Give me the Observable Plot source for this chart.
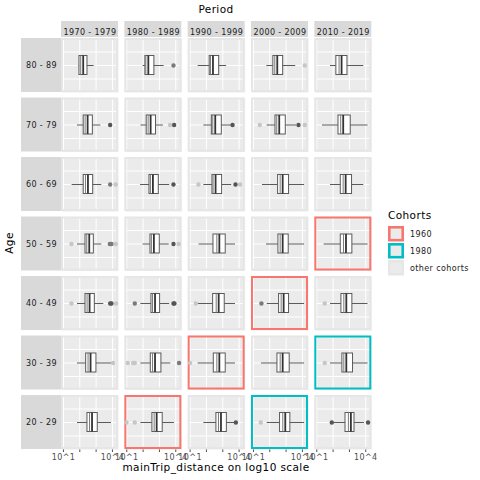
<!DOCTYPE html>
<html><head><meta charset="utf-8">
<script src="https://cdn.jsdelivr.net/npm/d3@7"></script>
<script src="https://cdn.jsdelivr.net/npm/@observablehq/plot@0.6"></script>
<style>
body{margin:0;background:#fff;}
#wrap{position:relative;width:480px;height:480px;}
#wrap svg{position:absolute;left:0;top:0;}
#wrap svg text{letter-spacing:0.4px;}
#overlay text{letter-spacing:0;}
</style></head><body><div id="wrap"></div>
<script>
// Facet categories
const ages = ["80 - 89", "70 - 79", "60 - 69", "50 - 59", "40 - 49", "30 - 39", "20 - 29"];
const periods = ["1970 - 1979", "1980 - 1989", "1990 - 1999", "2000 - 2009", "2010 - 2019"];
const cohortGroups = ["1960", "1980", "other cohorts"];
const cohortColors = ["#F8766D", "#00BFC4", "#E6E6E6"];

// Boxplot statistics, log10(mainTrip_distance); rows = ages, columns = periods
const whiskerLow = [
  [1.95, 2.00, 1.49, 1.82, 1.84],
  [1.86, 1.87, 1.84, 1.84, 1.35],
  [1.53, 1.84, 1.84, 1.55, 1.84],
  [1.86, 2.00, 1.55, 1.80, 1.45],
  [1.86, 1.86, 1.49, 1.84, 1.84],
  [1.86, 1.86, 1.49, 1.49, 1.84],
  [1.86, 1.86, 1.84, 1.84, 1.96]
];
const q1 = [
  [1.98, 2.14, 2.20, 2.22, 2.20],
  [2.24, 2.22, 2.33, 2.35, 2.33],
  [2.24, 2.39, 2.37, 2.51, 2.47],
  [2.35, 2.45, 2.43, 2.53, 2.47],
  [2.35, 2.51, 2.41, 2.57, 2.51],
  [2.39, 2.47, 2.45, 2.47, 2.57],
  [2.47, 2.57, 2.61, 2.63, 2.76]
];
const median = [
  [2.24, 2.35, 2.43, 2.49, 2.55],
  [2.51, 2.49, 2.57, 2.61, 2.65],
  [2.53, 2.63, 2.59, 2.82, 2.80],
  [2.61, 2.69, 2.82, 2.82, 2.82],
  [2.63, 2.76, 2.78, 2.88, 2.84],
  [2.69, 2.76, 2.82, 2.82, 2.84],
  [2.78, 2.86, 2.92, 2.98, 3.12]
];
const q3 = [
  [2.47, 2.69, 2.78, 2.82, 2.88],
  [2.80, 2.79, 2.94, 2.98, 3.08],
  [2.82, 2.96, 2.96, 3.18, 3.16],
  [2.86, 3.02, 3.18, 3.16, 3.18],
  [2.92, 3.04, 3.12, 3.18, 3.18],
  [3.02, 3.12, 3.18, 3.22, 3.22],
  [3.10, 3.20, 3.25, 3.26, 3.31]
];
const whiskerHigh = [
  [2.88, 3.29, 3.24, 3.59, 3.88],
  [3.29, 3.24, 3.53, 3.65, 4.14],
  [3.35, 3.63, 3.55, 4.14, 3.88],
  [3.35, 3.60, 3.78, 4.14, 4.14],
  [3.47, 3.63, 3.78, 4.14, 4.14],
  [3.96, 3.70, 3.78, 4.14, 4.14],
  [3.94, 3.92, 3.73, 4.14, 3.92]
];
// Outliers: [age index, period index, log10 distance, shade]
const outliers = [
  [0,1,3.86,"mid"],[0,3,4.14,"light"],
  [1,0,3.86,"dark"],[1,1,3.65,"light"],[1,1,3.90,"dark"],[1,2,3.60,"dark"],[1,3,1.39,"light"],[1,3,3.76,"dark"],[1,3,4.14,"light"],
  [2,0,3.86,"mid"],[2,0,4.20,"light"],[2,1,3.86,"dark"],[2,2,1.51,"light"],[2,2,3.78,"dark"],[2,2,4.06,"light"],
  [3,0,1.49,"light"],[3,0,3.84,"mid"],[3,0,3.94,"mid"],[3,0,4.20,"light"],[3,1,3.86,"dark"],[3,1,4.18,"light"],
  [4,0,1.49,"light"],[4,0,3.86,"dark"],[4,0,3.94,"dark"],[4,0,4.22,"light"],[4,1,1.49,"mid"],[4,1,3.86,"dark"],[4,1,3.92,"dark"],[4,2,1.35,"light"],[4,3,1.49,"mid"],[4,4,1.49,"light"],
  [5,0,4.04,"light"],[5,1,1.06,"light"],[5,1,1.39,"light"],[5,1,1.49,"light"],[5,1,4.20,"mid"],[5,2,1.00,"light"],[5,4,1.49,"light"],
  [6,1,0.98,"light"],[6,1,1.49,"light"],[6,2,3.80,"dark"],[6,3,1.45,"light"],[6,4,1.92,"dark"],[6,4,4.14,"dark"]
];
const shadeNames = ["dark", "mid", "light"];
const shadeColors = ["#555555", "#7A7A7A", "#C6C6C6"];
const xTicks = [10, 100, 1000, 10000];
const xTickLabels = ["10^1", "", "", "10^4"];
const xDomain = [10 ** 0.88, 10 ** 4.37];
const yGrid = [0.25, 0.5, 0.75];

const panels = ages.flatMap((age, i) => periods.map((period, j) => {
  const cohort = String(+period.slice(0, 4) - +age.slice(0, 2));
  return {
    age, period,
    cohort: cohortGroups.includes(cohort) ? cohort : "other cohorts",
    wl: 10 ** whiskerLow[i][j], q1: 10 ** q1[i][j], med: 10 ** median[i][j],
    q3: 10 ** q3[i][j], wh: 10 ** whiskerHigh[i][j]
  };
}));
const outs = outliers.map(([i, j, v, s]) => ({age: ages[i], period: periods[j], x: 10 ** v, shade: s}));

const full = {x1: () => xDomain[0], x2: () => xDomain[1], y1: () => 0, y2: () => 1};
const boxInset = {insetTop: 17.5, insetBottom: 17.5};

const chart = Plot.plot({
  width: 480, height: 480,
  marginLeft: 61, marginRight: 108.7, marginTop: 38, marginBottom: 31,
  style: {fontFamily: "DejaVu Sans, sans-serif", fontSize: "8px", color: "#4D4D4D", background: "transparent", overflow: "visible"},
  fx: {domain: periods, paddingInner: 0.1, paddingOuter: 0, round: false, axis: null},
  fy: {domain: ages, paddingInner: 0.0924, paddingOuter: 0, round: false, axis: null},
  x: {type: "log", domain: xDomain, ticks: xTicks, tickFormat: d => xTickLabels[xTicks.indexOf(d)] ?? "", tickSize: 3, tickPadding: 2, label: null},
  y: {domain: [0, 1], axis: null},
  color: {domain: cohortGroups, range: cohortColors},
  marks: [
    Plot.frame({fill: "#EBEBEB"}),
    Plot.ruleX(xTicks, {stroke: "white", strokeWidth: 1}),
    Plot.ruleY(yGrid, {stroke: "white", strokeWidth: 1}),
    Plot.rect(panels, {fx: "period", fy: "age", ...full, inset: 1, fill: "none", stroke: "cohort", strokeWidth: 2}),
    // strips
    Plot.rect(periods, {fx: d => d, fy: () => ages[0], ...full, insetBottom: 38, dy: -17, fill: "#D9D9D9"}),
    Plot.text(periods, {fx: d => d, fy: () => ages[0], text: d => d, frameAnchor: "top", dy: -9, fontSize: 8, fill: "#1A1A1A"}),
    Plot.rect(ages, {fx: () => periods[0], fy: d => d, ...full, insetRight: 17, dx: -40, fill: "#D9D9D9"}),
    Plot.text(ages, {fx: () => periods[0], fy: d => d, text: d => d, frameAnchor: "left", dx: -20, textAnchor: "middle", fontSize: 8, fill: "#1A1A1A"}),
    // boxplots
    Plot.ruleY(panels, {fx: "period", fy: "age", y: () => 0.5, x1: "wl", x2: "wh", stroke: "#5A5A5A", strokeWidth: 1}),
    Plot.rect(panels, {fx: "period", fy: "age", x1: "q1", x2: "q3", y1: () => 0, y2: () => 1, ...boxInset, fill: "white", stroke: "#5A5A5A", strokeWidth: 1}),
    Plot.rect(panels, {fx: "period", fy: "age", x1: "med", x2: "med", y1: () => 0, y2: () => 1, ...boxInset, insetLeft: -0.5, insetRight: -0.5, dx: -2.5, fill: "#7A7A7A"}),
    Plot.rect(panels, {fx: "period", fy: "age", x1: "med", x2: "med", y1: () => 0, y2: () => 1, ...boxInset, insetLeft: -0.9, insetRight: -0.9, fill: "#333333"}),
    ...shadeNames.map((s, k) => Plot.dot(outs.filter(d => d.shade === s), {fx: "period", fy: "age", x: "x", y: () => 0.5, r: 2.2, fill: shadeColors[k], stroke: "none"}))
  ]
});
const wrap = document.getElementById("wrap");
wrap.appendChild(chart);

// Titles and legend
const ov = d3.select(wrap).append("svg").attr("id", "overlay").attr("width", 480).attr("height", 480)
  .style("font-family", "DejaVu Sans, sans-serif");
ov.append("text").attr("x", 216).attr("y", 13).attr("text-anchor", "middle").attr("font-size", 10.5).attr("fill", "#000").text("Period");
ov.append("text").attr("transform", "translate(13,243) rotate(-90)").attr("text-anchor", "middle").attr("font-size", 10.5).attr("fill", "#000").text("Age");
ov.append("text").attr("x", 216).attr("y", 471).attr("text-anchor", "middle").attr("font-size", 10.5).attr("fill", "#000").text("mainTrip_distance on log10 scale");
ov.append("text").attr("x", 388).attr("y", 219).attr("font-size", 10.5).attr("fill", "#000").text("Cohorts");
const keys = ov.selectAll("g.key").data(cohortGroups).join("g").attr("class", "key")
  .attr("transform", (d, i) => `translate(388,${226 + i * 17})`);
keys.append("rect").attr("x", 1.3).attr("y", 1.3).attr("width", 13.4).attr("height", 12.9)
  .attr("fill", "#EBEBEB").attr("stroke", (d, i) => cohortColors[i]).attr("stroke-width", 2.6);
keys.append("text").attr("x", 22).attr("y", 10.5).attr("font-size", 8).attr("fill", "#1A1A1A")
  .style("letter-spacing", "0.4px").text(d => d);
</script>
</body></html>
